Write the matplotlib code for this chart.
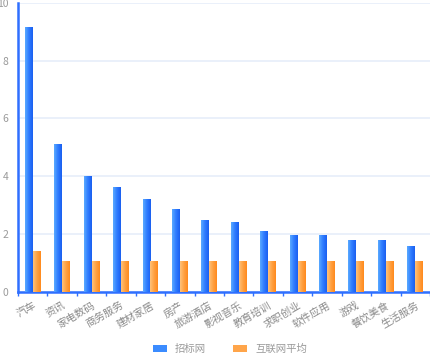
import numpy as np
import matplotlib.pyplot as plt
from matplotlib.colors import LinearSegmentedColormap

plt.rcParams['font.family'] = ['Noto Sans CJK SC', 'DejaVu Sans']

categories = ["汽车", "资讯", "家电数码", "商务服务", "建材家居", "房产", "旅游酒店",
              "影视音乐", "教育培训", "求职创业", "软件应用", "游戏", "餐饮美食", "生活服务"]
zhaobiao = [9.15, 5.1, 4.0, 3.63, 3.2, 2.86, 2.48, 2.41, 2.11, 1.97, 1.97, 1.78, 1.78, 1.6]
hulianwang = [1.41, 1.07, 1.07, 1.07, 1.07, 1.07, 1.07, 1.07, 1.07, 1.07, 1.07, 1.07, 1.07, 1.07]

fig = plt.figure(figsize=(4.3, 3.53), dpi=100)
ax = fig.add_axes([0.042, 0.173, 0.958, 0.819])

x = np.arange(len(categories))
w = 0.27
b1 = ax.bar(x - w / 2, zhaobiao, w, color="#3b8cff", label="招标网", zorder=2)
b2 = ax.bar(x + w / 2, hulianwang, w, color="#ffa54a", label="互联网平均", zorder=2)

# horizontal gradient on each bar
cm_blue = LinearSegmentedColormap.from_list("b", ["#5aaaff", "#2f7cff", "#1a5ff0"])
cm_orange = LinearSegmentedColormap.from_list("o", ["#ffc27a", "#ffa243", "#ff8a1c"])
grad = np.linspace(0, 1, 64).reshape(1, -1)
for bars, cm in [(b1, cm_blue), (b2, cm_orange)]:
    for p in bars:
        x0, y0 = p.get_x(), p.get_y()
        im = ax.imshow(grad, cmap=cm, aspect="auto", zorder=3,
                       extent=[x0, x0 + p.get_width(), y0, y0 + p.get_height()])
        im.set_clip_path(p)

ax.set_xlim(-0.5, len(categories) - 0.5)
ax.set_ylim(0, 10)
ax.set_yticks([0, 2, 4, 6, 8, 10])
ax.grid(axis="y", color="#e6eefa", linewidth=1.2, zorder=0)
ax.set_axisbelow(True)

for s in ["top", "right"]:
    ax.spines[s].set_visible(False)
ax.spines["left"].set_color("#2f6fff")
ax.spines["left"].set_linewidth(1.8)
ax.spines["bottom"].set_color("#2f6fff")
ax.spines["bottom"].set_linewidth(1.8)

ax.tick_params(axis="y", length=0, labelsize=7.5, labelcolor="#9a9a9a", pad=7)
ax.set_xticks(np.arange(len(categories) + 1) - 0.5, minor=True)
ax.tick_params(axis="x", which="minor", length=3, color="#2f6fff", width=1)
ax.set_xticks(x)
ax.set_xticklabels(categories, rotation=30, ha="right", va="top",
                   rotation_mode="anchor", fontsize=7.5, color="#8a8a8a")
ax.tick_params(axis="x", which="major", length=0, pad=6)

leg = fig.legend(handles=[b1, b2], loc="lower center", bbox_to_anchor=(0.535, -0.03),
                 ncol=2, frameon=False, fontsize=7.5, handlelength=1.3,
                 handleheight=0.6, columnspacing=2.6)
for t in leg.get_texts():
    t.set_color("#9a9a9a")

fig.savefig("out.png", dpi=100)
